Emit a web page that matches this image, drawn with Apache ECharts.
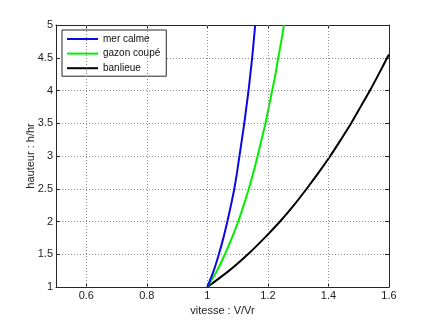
<!DOCTYPE html>
<html><head><meta charset="utf-8">
<script src="https://cdn.jsdelivr.net/npm/echarts@6/dist/echarts.min.js"></script>
<style>html,body{margin:0;padding:0;background:#fff}#c{width:430px;height:322px}</style>
</head><body><div id="c"></div>
<script>
var seriesNames = ['mer calme', 'gazon coupé', 'banlieue'];
var heights = [1, 1.25, 1.5, 1.75, 2, 2.25, 2.5, 2.75, 3, 3.25, 3.5, 3.75, 4, 4.25, 4.5, 4.75, 5];
var merCalme = [1, 1.021, 1.038, 1.053, 1.066, 1.078, 1.089, 1.098, 1.106, 1.114, 1.122, 1.129, 1.136, 1.142, 1.148, 1.153, 1.158];
var gazonCoupe = [1, 1.032, 1.058, 1.081, 1.102, 1.120, 1.137, 1.152, 1.166, 1.179, 1.192, 1.203, 1.214, 1.225, 1.234, 1.244, 1.253];
var banlieueHeights = [1, 1.25, 1.5, 1.75, 2, 2.25, 2.5, 2.75, 3, 3.25, 3.5, 3.75, 4, 4.25, 4.5, 4.55];
var banlieue = [1, 1.072, 1.134, 1.189, 1.240, 1.286, 1.328, 1.368, 1.406, 1.441, 1.475, 1.506, 1.537, 1.566, 1.594, 1.600];
var xTicks = [0.6, 0.8, 1, 1.2, 1.4, 1.6];
var yTicks = [1, 1.5, 2, 2.5, 3, 3.5, 4, 4.5, 5];
var xTitle = 'vitesse : V/Vr';
var yTitle = 'hauteur : h/hr';

function pairs(xs, ys) { return xs.map(function (v, i) { return [v, ys[i]]; }); }

var axisColor = '#262626';
var gridColor = '#8c8c8c';
var font = 'Liberation Sans, Arial, sans-serif';

var chart = echarts.init(document.getElementById('c'), null, { renderer: 'canvas' });
var xCommon = { type: 'value', min: 0.5, max: 1.6 };
var option = {
  animation: false,
  backgroundColor: '#fff',
  grid: { left: 56, right: 41, top: 25, bottom: 35, containLabel: false },
  legend: {
    data: seriesNames.map(function (n) { return { name: n, icon: 'rect' }; }),
    orient: 'vertical',
    left: 62, top: 30,
    itemWidth: 31, itemHeight: 2, itemGap: 0.6,
    padding: [2, 6, 1, 5],
    backgroundColor: '#fff',
    borderColor: axisColor, borderWidth: 1,
    textStyle: { fontFamily: font, fontSize: 10, color: '#111', lineHeight: 14 }
  },
  xAxis: [
    Object.assign({}, xCommon, {
      position: 'bottom',
      name: xTitle, nameLocation: 'middle', nameGap: 18, nameMoveOverlap: false,
      nameTextStyle: { fontFamily: font, fontSize: 11, color: '#222' },
      axisLine: { show: true, onZero: false, lineStyle: { color: axisColor, width: 1 } },
      axisTick: { show: true, inside: true, length: 4, customValues: xTicks, lineStyle: { color: axisColor } },
      axisLabel: { show: true, customValues: xTicks, margin: 3, fontFamily: font, fontSize: 11, color: '#222',
        formatter: function (v) { return String(+v.toFixed(2)); } },
      splitLine: { show: false }
    }),
    Object.assign({}, xCommon, {
      position: 'top',
      axisLine: { show: true, onZero: false, lineStyle: { color: axisColor, width: 1 } },
      axisTick: { show: true, inside: true, length: 4, customValues: xTicks, lineStyle: { color: axisColor } },
      axisLabel: { show: false },
      splitLine: { show: false }
    })
  ],
  yAxis: [
    {
      type: 'value', min: 1, max: 5, interval: 0.5, position: 'left',
      name: yTitle, nameLocation: 'middle', nameGap: 20, nameRotate: 90, nameMoveOverlap: false,
      nameTextStyle: { fontFamily: font, fontSize: 11, color: '#222' },
      axisLine: { show: true, onZero: false, lineStyle: { color: axisColor, width: 1 } },
      axisTick: { show: true, inside: true, length: 4, lineStyle: { color: axisColor } },
      axisLabel: { show: true, margin: 3, fontFamily: font, fontSize: 11, color: '#222' },
      splitLine: { show: true, lineStyle: { color: gridColor, width: 1, type: [1, 2] } }
    },
    {
      type: 'value', min: 1, max: 5, interval: 0.5, position: 'right',
      axisLine: { show: true, onZero: false, lineStyle: { color: axisColor, width: 1 } },
      axisTick: { show: true, inside: true, length: 4, lineStyle: { color: axisColor } },
      axisLabel: { show: false },
      splitLine: { show: false }
    }
  ],
  series: [
    {
      name: seriesNames[0], type: 'line', data: pairs(merCalme, heights),
      symbol: 'none', smooth: 0.3, lineStyle: { color: '#0a0ae0', width: 2 }, itemStyle: { color: '#0a0ae0' }, z: 5,
      markLine: {
        silent: true, symbol: 'none', label: { show: false }, animation: false,
        lineStyle: { color: gridColor, width: 1, type: [1, 2] },
        data: xTicks.filter(function (t) { return t < 1.6; }).map(function (t) { return { xAxis: t }; })
      }
    },
    {
      name: seriesNames[1], type: 'line', data: pairs(gazonCoupe, heights),
      symbol: 'none', smooth: 0.3, lineStyle: { color: '#00f000', width: 2 }, itemStyle: { color: '#00f000' }, z: 4
    },
    {
      name: seriesNames[2], type: 'line', data: pairs(banlieue, banlieueHeights),
      symbol: 'none', smooth: 0.3, lineStyle: { color: '#000000', width: 2 }, itemStyle: { color: '#000000' }, z: 3
    }
  ]
};
chart.setOption(option);
</script>
</body></html>
